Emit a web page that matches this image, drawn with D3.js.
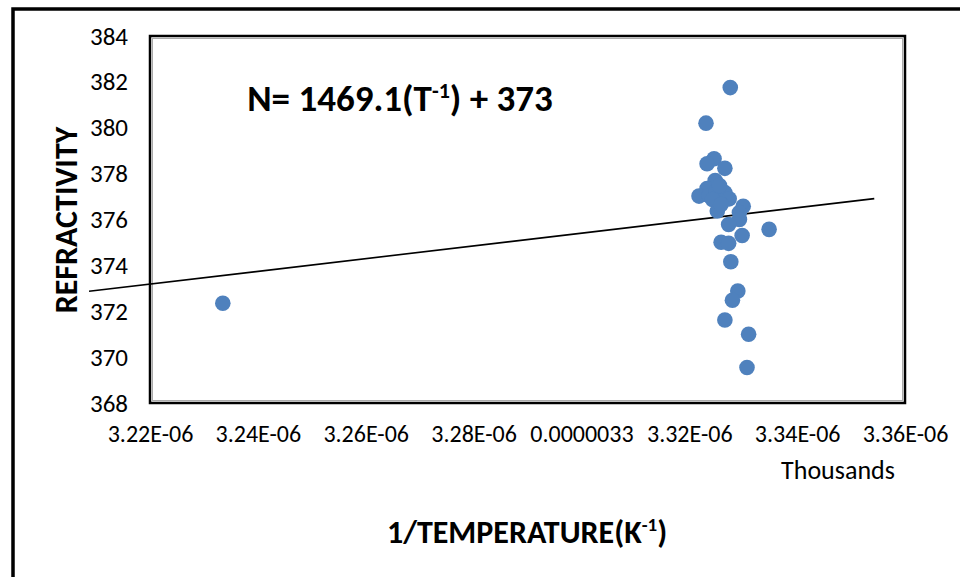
<!DOCTYPE html>
<html>
<head>
<meta charset="utf-8">
<script src="https://cdn.jsdelivr.net/npm/d3@7"></script>
<style>
  html, body { margin: 0; padding: 0; background: #fff; }
  svg { display: block; font-family: Carlito, Lato, sans-serif; }
</style>
</head>
<body>
<div id="chart"></div>
<script>
// Inverse temperature (in units of 1E-06) and refractivity
const invTemp = [
  3.2335, 3.3276, 3.3231, 3.3246, 3.3233, 3.3266, 3.3248, 3.3233, 3.3218, 3.3237,
  3.3250, 3.3266, 3.3274, 3.3256, 3.3243, 3.3300, 3.3293, 3.3252, 3.3293, 3.3273,
  3.3348, 3.3298, 3.3259, 3.3273, 3.3277, 3.3290, 3.3280, 3.3266, 3.3310, 3.3307,
  3.3256, 3.3259
];
const refractivity = [
  372.35, 381.75, 380.20, 378.65, 378.43, 378.23, 377.70, 377.35, 377.02, 377.04,
  377.24, 377.17, 376.90, 376.80, 376.87, 376.58, 376.30, 376.37, 376.00, 375.78,
  375.57, 375.30, 375.01, 374.96, 374.16, 372.88, 372.48, 371.62, 371.00, 369.55,
  377.48, 376.65
];

// Linear trendline end points
const trendX = [3.2087, 3.3543];
const trendY = [372.87, 376.91];

// Axis ticks
const xTicks = [3.22, 3.24, 3.26, 3.28, 3.30, 3.32, 3.34, 3.36];
const xTickLabels = ['3.22E-06', '3.24E-06', '3.26E-06', '3.28E-06', '0.0000033', '3.32E-06', '3.34E-06', '3.36E-06'];
const yTicks = [368, 370, 372, 374, 376, 378, 380, 382, 384];

const width = 960;
const height = 577;
const plot = { left: 150, top: 36, right: 905, bottom: 403 };

const svg = d3.select('#chart')
  .append('svg')
  .attr('width', width)
  .attr('height', height);

// Outer chart border (only top and left edges are visible)
svg.append('path')
  .attr('d', `M13,577 V9 H960`)
  .attr('fill', 'none')
  .attr('stroke', '#000')
  .attr('stroke-width', 3.5);

const x = d3.scaleLinear().domain([3.22, 3.36]).range([plot.left, plot.right]);
const y = d3.scaleLinear().domain([368, 384]).range([plot.bottom, plot.top]);

// Plot area frame
svg.append('rect')
  .attr('x', plot.left)
  .attr('y', plot.top)
  .attr('width', plot.right - plot.left)
  .attr('height', plot.bottom - plot.top)
  .attr('fill', 'none')
  .attr('stroke', '#000')
  .attr('stroke-width', 2.5);
svg.append('rect')
  .attr('x', plot.left + 2.5)
  .attr('y', plot.top + 2.5)
  .attr('width', plot.right - plot.left - 5)
  .attr('height', plot.bottom - plot.top - 5)
  .attr('fill', 'none')
  .attr('stroke', '#aaa')
  .attr('stroke-width', 1);

// Y axis
const yAxis = svg.append('g')
  .attr('transform', `translate(${plot.left - 22},0)`)
  .call(d3.axisLeft(y).tickValues(yTicks).tickSize(0).tickPadding(0).tickFormat(d3.format('d')));
yAxis.select('.domain').remove();
yAxis.selectAll('text')
  .attr('font-family', 'Carlito, Lato, sans-serif')
  .attr('font-size', '25px')
  .attr('fill', '#000');

// X axis
const xAxis = svg.append('g')
  .attr('transform', `translate(0,${plot.bottom + 22})`)
  .call(d3.axisBottom(x).tickValues(xTicks).tickSize(0).tickPadding(0)
    .tickFormat((d, i) => xTickLabels[i]));
xAxis.select('.domain').remove();
xAxis.selectAll('text')
  .attr('font-family', 'Carlito, Lato, sans-serif')
  .attr('font-size', '24px')
  .attr('fill', '#000');

svg.append('text')
  .attr('x', 838)
  .attr('y', 479)
  .attr('text-anchor', 'middle')
  .attr('font-size', '26px')
  .text('Thousands');

// Trendline
svg.append('line')
  .attr('x1', x(trendX[0]))
  .attr('y1', y(trendY[0]))
  .attr('x2', x(trendX[1]))
  .attr('y2', y(trendY[1]))
  .attr('stroke', '#000')
  .attr('stroke-width', 1.6);

// Points
svg.append('g')
  .selectAll('circle')
  .data(invTemp.map((v, i) => ({ x: v, y: refractivity[i] })))
  .enter()
  .append('circle')
  .attr('cx', d => x(d.x))
  .attr('cy', d => y(d.y))
  .attr('r', 7.8)
  .attr('fill', '#4f81bd');

// Equation
const eq = svg.append('text')
  .attr('x', 400)
  .attr('y', 111)
  .attr('text-anchor', 'middle')
  .attr('font-size', '37px')
  .attr('font-weight', 'bold');
eq.append('tspan').text('N= 1469.1(T');
eq.append('tspan').attr('dy', -13).attr('font-size', '22px').text('-1');
eq.append('tspan').attr('dy', 13).text(') + 373');

// Axis titles
svg.append('text')
  .attr('transform', 'translate(77,220) rotate(-90)')
  .attr('text-anchor', 'middle')
  .attr('font-size', '32px')
  .attr('font-weight', 'bold')
  .text('REFRACTIVITY');

const xt = svg.append('text')
  .attr('x', 527)
  .attr('y', 543)
  .attr('text-anchor', 'middle')
  .attr('font-size', '32px')
  .attr('font-weight', 'bold');
xt.append('tspan').text('1/TEMPERATURE(K');
xt.append('tspan').attr('dy', -12).attr('font-size', '19px').text('-1');
xt.append('tspan').attr('dy', 12).text(')');
</script>
</body>
</html>
